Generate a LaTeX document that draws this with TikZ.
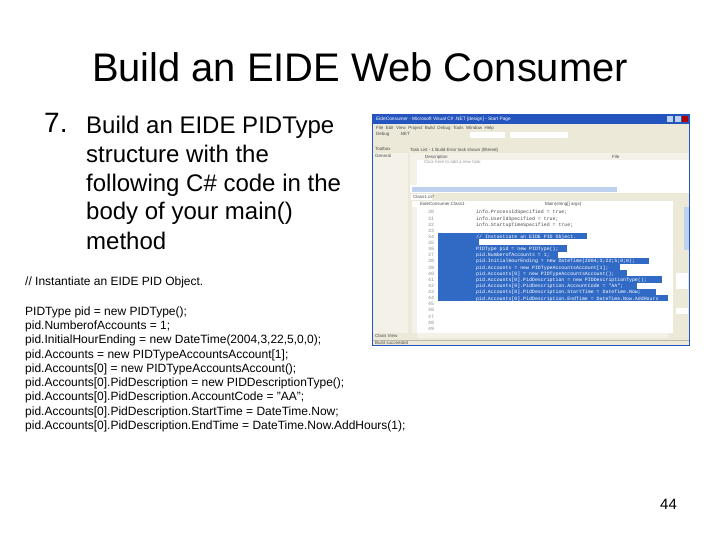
\documentclass[tikz,border=0pt]{standalone}
\usepackage{fontspec}
\setmainfont{Liberation Sans}
\setmonofont{Liberation Mono}
\definecolor{xpblue}{RGB}{36,84,190}
\definecolor{xpface}{RGB}{236,233,216}
\definecolor{panegrey}{RGB}{244,242,232}
\definecolor{selblue}{RGB}{49,106,197}
\definecolor{barblue}{RGB}{190,210,240}
\tikzset{
  codeline/.style={anchor=base west,inner sep=0pt,font=\fontsize{12}{13}\selectfont},
  bodyline/.style={anchor=base west,inner sep=0pt,font=\fontsize{24}{28}\selectfont},
  idetext/.style={anchor=base west,inner sep=0pt,font=\ttfamily\fontsize{4.9}{6}\selectfont},
  menutext/.style={anchor=base west,inner sep=0pt,text=black!70,font=\fontsize{4.5}{5}\selectfont},
  linenum/.style={anchor=base west,inner sep=0pt,text=black!45,font=\ttfamily\fontsize{4.9}{6}\selectfont}
}
\begin{document}
\begin{tikzpicture}[x=1pt,y=-1pt]
  \useasboundingbox (0,0) rectangle (720,540);
  \fill[white] (0,0) rectangle (720,540);

  % title and step text
  \node[anchor=base,inner sep=0pt,font=\fontsize{39.9}{44}\selectfont] (title) at (360,82) {Build an EIDE Web Consumer};
  \node[anchor=base west,inner sep=0pt,font=\fontsize{28}{32}\selectfont] (num) at (44,133) {7.};
  \node[bodyline] (b1) at (86,134) {Build an EIDE PIDType};
  \node[bodyline] (b2) at (86,163) {structure with the};
  \node[bodyline] (b3) at (86,192) {following C\# code in the};
  \node[bodyline] (b4) at (86,220) {body of your main()};
  \node[bodyline] (b5) at (86,249) {method};

  % code
  \node[codeline] (c0) at (25,285) {// Instantiate an EIDE PID Object.};
  \node[codeline] (c1) at (25,315) {PIDType pid = new PIDType();};
  \node[codeline] (c2) at (25,329) {pid.NumberofAccounts = 1;};
  \node[codeline] (c3) at (25,343) {pid.InitialHourEnding = new DateTime(2004,3,22,5,0,0);};
  \node[codeline] (c4) at (25,358) {pid.Accounts = new PIDTypeAccountsAccount[1];};
  \node[codeline] (c5) at (25,372) {pid.Accounts[0] = new PIDTypeAccountsAccount();};
  \node[codeline] (c6) at (25,386) {pid.Accounts[0].PidDescription = new PIDDescriptionType();};
  \node[codeline] (c7) at (25,400) {pid.Accounts[0].PidDescription.AccountCode = "AA";};
  \node[codeline] (c8) at (25,415) {pid.Accounts[0].PidDescription.StartTime = DateTime.Now;};
  \node[codeline] (c9) at (25,429) {pid.Accounts[0].PidDescription.EndTime = DateTime.Now.AddHours(1);};

  \node[anchor=base,inner sep=0pt,font=\fontsize{15}{16}\selectfont] (page) at (668.5,509) {44};

  % screenshot window
  \fill[xpblue] (372,114) rectangle (690,346);
  \fill[xpface] (373,124) rectangle (689,345);
  \node[anchor=base west,inner sep=0pt,text=white,font=\fontsize{4.8}{5}\selectfont] (wintitle) at (376,121) {EideConsumer - Microsoft Visual C\# .NET [design] - Start Page};
  \fill[barblue] (667,116) rectangle (673,122);
  \fill[barblue] (675,116) rectangle (681,122);
  \fill[red!70!black] (682,116) rectangle (688,122);
  \node[menutext] (menu) at (376,130) {File \ Edit \ View \ Project \ Build \ Debug \ Tools \ Window \ Help};
  \node[menutext] (bar1) at (376,136) {Debug \quad\quad .NET};
  \fill[white] (470,132) rectangle (505,138);
  \fill[white] (510,132) rectangle (568,138);

  % left pane
  \fill[panegrey] (373,153) rectangle (408,333);
  \node[menutext] (toolbox) at (375,151) {Toolbox};
  \node[menutext] (general) at (375,158) {General};

  % task pane
  \fill[white] (417,160) rectangle (689,185);
  \fill[panegrey] (410,153) rectangle (689,160);
  \fill[panegrey] (410,160) rectangle (417,185);
  \node[menutext] (tasks) at (410,151.5) {Task List - 1 Build Error task shown (filtered)};
  \node[menutext] (descr) at (425,158.5) {Description};
  \node[menutext] (file) at (612,158.5) {File};
  \node[menutext,text=black!40] (clickadd) at (424,164) {Click here to add a new task};
  \fill[white] (410,185) rectangle (689,193);
  \fill[barblue] (412,187) rectangle (617,192);

  % editor
  \fill[white] (411,194) rectangle (432,200);
  \node[menutext] (tab) at (413,198.5) {Class1.cs*};
  \fill[white] (412,201) rectangle (673,207);
  \fill[white] (417,207) rectangle (673,333);
  \fill[panegrey] (412,207) rectangle (417,333);
  \node[menutext] (cmb) at (420,205.5) {EideConsumer.Class1};
  \node[menutext] (cmbb) at (545,205.5) {Main(string[] args)};

  % line numbers
  \foreach \n [evaluate=\n as \ypos using 214+(\n-30)*6.12] in {30,...,49}
    \node[linenum] (num\n) at (428,\ypos) {\n};

  \foreach \i/\t in {0/info.ProcessIdSpecified = true;,1/info.UserIdSpecified = true;,2/info.StartupTimeSpecified = true;}
    \node[idetext,text=black!70] (top\i) at (476,{214+\i*6.12}) {\t};
  \foreach \y/\w in {233/587,239.2/479,245.4/567,251.6/558,257.8/649,264/620,270.2/627,276.4/662,282.6/637,288.8/656,295/668}
    \fill[selblue] (438,\y) rectangle (\w,\y+6.2);
  \node[idetext,text=white] (sel0) at (476,238) {// Instantiate an EIDE PID Object.};
  \foreach \i/\t in {2/PIDType pid = new PIDType();,3/pid.NumberofAccounts = 1;,4/pid.InitialHourEnding = new DateTime(2004;3;22;5;0;0);,5/pid.Accounts = new PIDTypeAccountsAccount[1];,6/pid.Accounts[0] = new PIDTypeAccountsAccount();,7/pid.Accounts[0].PidDescription = new PIDDescriptionType();,8/pid.Accounts[0].PidDescription.AccountCode = "AA";,9/pid.Accounts[0].PidDescription.StartTime = DateTime.Now;,10/pid.Accounts[0].PidDescription.EndTime = DateTime.Now.AddHours}
    \node[idetext,text=white] (sel\i) at (476,{238+\i*6.2}) {\t};

  % right strip and status bar
  \fill[xpface] (673,201) rectangle (689,333);
  \fill[barblue] (684,207) rectangle (689,250);
  \fill[white] (676,273) rectangle (688,289);
  \fill[white] (676,308) rectangle (688,314);
  \fill[panegrey] (417,333) rectangle (668,338);
  \fill[xpface!80!black] (373,339.5) rectangle (689,340);
  \node[menutext] (status) at (375,344) {Build succeeded};
  \node[menutext] (classv) at (375,337) {Class View};
\end{tikzpicture}
\end{document}
